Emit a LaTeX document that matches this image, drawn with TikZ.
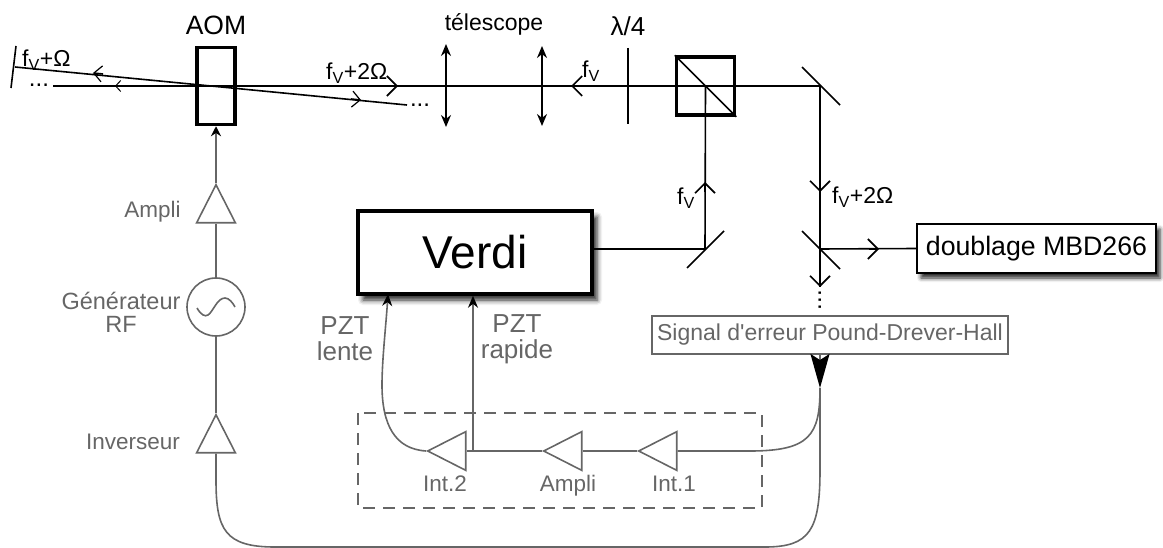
\documentclass[tikz,border=0pt]{standalone}
\usepackage{fontspec}
\setmainfont{Liberation Sans}
\usetikzlibrary{arrows.meta,shapes.geometric,shadows.blur}
\definecolor{elec}{HTML}{666666}
\newcommand{\fv}{f\textsubscript{V}}
\newcommand{\sz}[1]{\fontsize{#1}{#1}\selectfont}
\tikzset{
  beam/.style={draw=black,line width=1.6pt},
  wire/.style={draw=elec,line width=1.6pt},
  bigarr/.style={-{Straight Barb[length=10pt,width=20pt,line width=1.6pt]}},
  midarr/.style={-{Straight Barb[length=8pt,width=16pt,line width=1.2pt]}},
  smallarr/.style={-{Straight Barb[length=5pt,width=11pt,line width=1pt]}},
  gain/.style={isosceles triangle,isosceles triangle apex angle=54,minimum height=38pt,
    inner sep=0pt,draw=elec,line width=1.6pt,anchor=apex},
  thick box/.style={draw=black,line width=3.5pt,rectangle,inner sep=0pt},
  graytext/.style={text=elec,align=center,inner sep=0pt,anchor=base},
  dotstext/.style={inner sep=0pt,anchor=base,text height=3pt,text depth=0pt,font=\sz{24}}
}
\begin{document}
\begin{tikzpicture}[x=1pt,y=-1pt]
  \useasboundingbox (0,0) rectangle (1163,548);
  % optique
  \coordinate (mirA) at (820,86);
  \coordinate (mirB) at (705,249);
  \coordinate (mirC) at (820,249);
  \coordinate (beamend) at (53,86);
  \coordinate (tiltL) at (15,67);
  \coordinate (tiltR) at (407,105);
  \coordinate (endC) at (820,287);
  \node[thick box,minimum width=38pt,minimum height=77pt] (aom) at (216,86) {};
  \node[thick box,minimum width=58pt,minimum height=58pt] (cube) at (705.5,86) {};
  \node[thick box,minimum width=234pt,minimum height=83pt,fill=white,
    blur shadow={shadow xshift=5pt,shadow yshift=-6pt,shadow blur radius=5pt,shadow opacity=85}] (verdi) at (475,252.5) {\sz{46}Verdi};
  \node[draw=black,line width=1.6pt,minimum width=239pt,minimum height=49pt,inner sep=0pt,fill=white,
    blur shadow={shadow xshift=4pt,shadow yshift=-5pt,shadow blur radius=4pt,shadow opacity=85}] (doublage) at (1036.5,248.5) {\sz{26.7}doublage MBD266};
  \node[draw=elec,line width=1.6pt,minimum width=356pt,minimum height=38pt,inner sep=0pt,text=elec] (signal) at (830,335) {\sz{23}Signal d\textquotesingle erreur Pound-Drever-Hall};

  \draw[beam] (beamend) -- (mirA) -- (mirC) -- (endC);
  \draw[beam] (tiltL) -- (tiltR);
  \draw[beam] (cube.center) -- (mirB) -- (verdi.east |- mirB);
  \draw[beam] (mirC) -- (doublage.west);
  \draw[beam] (cube.north west) -- (cube.south east);
  \draw[beam] (11,88) -- (16,46);
  \draw[beam] (mirA) ++(-18,-19) -- ++(38,38);
  \draw[beam] (mirB) ++(-18,19) -- ++(37,-37);
  \draw[beam] (mirC) ++(-18,-18) -- ++(38,38);
  \draw[beam] (628,48) -- (628,124);
  \foreach \x/\a/\b in {446/44/127,542/46/126} {
    \draw[beam,{Stealth[length=12pt,width=10pt]}-{Stealth[length=12pt,width=10pt]}] (\x,\a) -- (\x,\b);
  }

  % fleches sur les faisceaux
  \draw[beam,bigarr] (388,86) -- (398,86);
  \draw[beam,bigarr] (581,86) -- (571,86);
  \draw[beam,bigarr] (705,192) -- (705,182);
  \draw[beam,bigarr] (820,182) -- (820,192);
  \draw[beam,bigarr] (869,249) -- (879,249);
  \draw[beam,bigarr] (820,277) -- (820,287);
  \draw[beam,midarr] (351,99) -- (361,100);
  \draw[beam,midarr] (103,74) -- (93,73);
  \draw[beam,smallarr] (125,86) -- (115,86);

  % electronique
  \node[gain,shape border rotate=90] (gainA) at (216,183) {};
  \node[gain,shape border rotate=90] (gainB) at (216,413) {};
  \node[circle,draw=elec,line width=1.6pt,minimum size=58pt,inner sep=0pt] (gen) at (216,307) {};
  \draw[wire] (197,308) .. controls (201,315) and (205,317) .. (208,315) .. controls (213,312) and (217,298) .. (225,298) .. controls (229,298) and (233,303) .. (235,307);
  \node[gain,shape border rotate=180] (int1) at (637,451) {};
  \node[gain,shape border rotate=180] (amp) at (542,451) {};
  \node[gain,shape border rotate=180] (int2) at (426,451) {};
  \coordinate (tipS) at (820,388);
  \coordinate (rapide) at (473,451);
  \draw[draw=elec,line width=1.5pt,dash pattern=on 12pt off 8pt] (358,413) rectangle (762,508);

  \draw[wire,-{Stealth[black,length=10pt,width=10pt]}] (gainA.apex) -- (aom.south);
  \draw[wire] (gainA.lower side) -- (gen.north);
  \draw[wire] (gen.south) -- (gainB.apex);
  \draw[wire,-{Stealth[black,length=34pt,width=19pt,inset=6pt]}] (signal.south -| tipS) -- (tipS);
  \draw[wire] (tipS) .. controls (820,435) and (810,451) .. (750,451) -- (int1.lower side);
  \draw[wire] (tipS) -- (820,470) .. controls (820,530) and (810,547) .. (765,547) -- (275,547)
    .. controls (225,547) and (216,530) .. (216,480) -- (gainB.lower side);
  \draw[wire] (int1.apex) -- (amp.lower side);
  \draw[wire] (amp.apex) -- (int2.lower side);
  \draw[wire,-{Stealth[black,length=12pt,width=10pt]}] (rapide) -- (rapide |- verdi.south);
  \draw[wire,-{Stealth[black,length=12pt,width=10pt]}] (int2.apex) .. controls (395,449) and (382,425) .. (382,385) .. controls (382,360) and (386,325) .. (388,294);

  % textes
  \node[inner sep=0pt] (taom) at (216,25) {\sz{26.5}AOM};
  \node[inner sep=0pt] (ttel) at (494,24) {\sz{23}télescope};
  \node[inner sep=0pt] (tlam) at (628,26) {\sz{26}λ/4};
  \node[inner sep=0pt,anchor=west] (tfa) at (22,60) {\sz{23}\fv+Ω};
  \node[inner sep=0pt,anchor=west] (tfb) at (326,73) {\sz{23}\fv+2Ω};
  \node[inner sep=0pt,anchor=west] (tfc) at (582,71) {\sz{23}\fv};
  \node[inner sep=0pt,anchor=east] (tfd) at (695,198) {\sz{23}\fv};
  \node[inner sep=0pt,anchor=west] (tfe) at (832,197) {\sz{23}\fv+2Ω};
  \node[dotstext] (dotsA) at (39,87) {...};
  \node[dotstext] (dotsB) at (420,107) {...};
  \node[dotstext,rotate=90] (dotsC) at (821,300) {...};

  \node[graytext] (tampli) at (152.5,218) {\sz{22.5}Ampli};
  \node[graytext,font=\sz{23.5}] (tgen) at (121,333) {Générateur\\RF};
  \node[graytext] (tinv) at (133,449) {\sz{22.5}Inverseur};
  \node[graytext,font=\sz{26}] (tlente) at (345,360) {PZT\\lente};
  \node[graytext,font=\sz{26}] (trapide) at (517,359) {PZT\\rapide};
  \node[graytext] (tint2) at (445,491) {\sz{22.5}Int.2};
  \node[graytext] (tamp) at (568,491) {\sz{22.5}Ampli};
  \node[graytext] (tint1) at (674,491) {\sz{22.5}Int.1};
\end{tikzpicture}
\end{document}
